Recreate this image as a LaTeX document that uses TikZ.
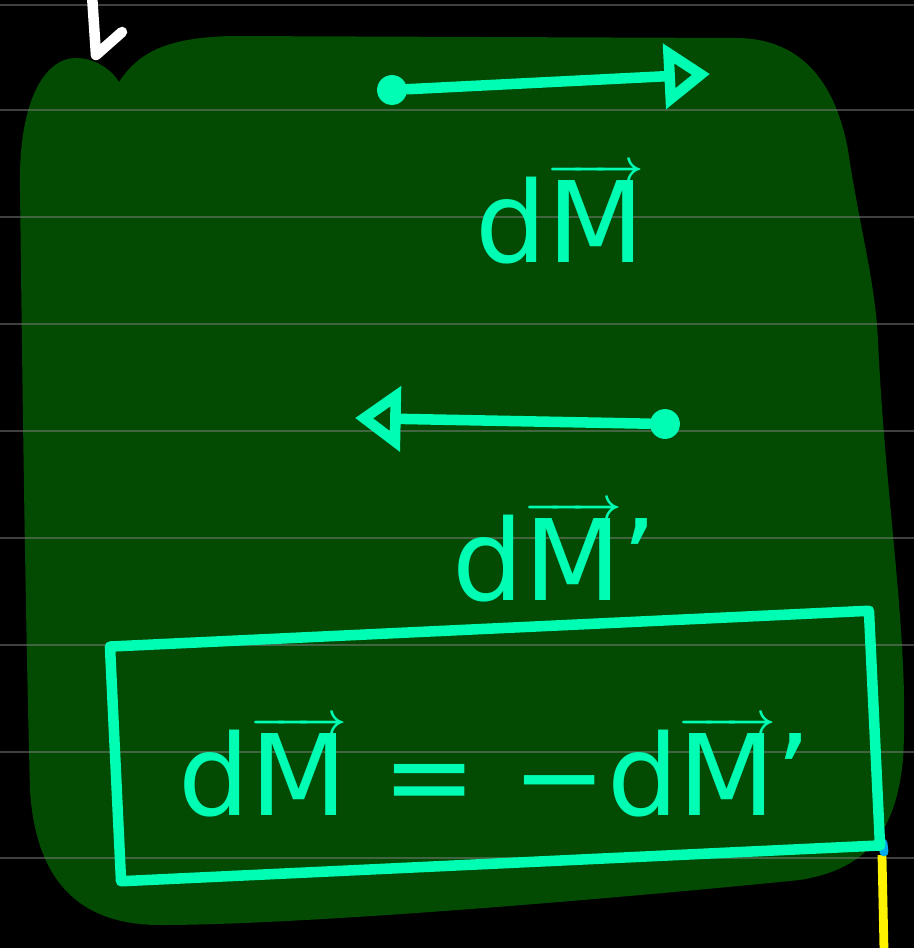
\documentclass[tikz,border=0pt]{standalone}
\usepackage{amsmath}
\usepackage{fontspec}
\setsansfont{DejaVu Sans}
\usetikzlibrary{positioning,arrows.meta,calc}
\definecolor{blob}{HTML}{034A02}
\definecolor{ink}{HTML}{00FDB4}
\definecolor{chalk}{HTML}{FFFFFF}
\definecolor{marker}{HTML}{FFF200}

\begin{document}
\begin{tikzpicture}[
  x=0.02cm, y=-0.02cm,
  rule/.style={gray, opacity=0.5, line width=1.6pt},
  pen/.style={draw=ink, line width=6pt, line cap=round, line join=round},
  arr/.style={pen, -{Triangle[open, length=26pt, width=36pt]}},
  dot/.style={circle, fill=ink, inner sep=0pt, minimum size=17pt},
  lbl/.style={text=ink, inner sep=0pt, font=\sffamily\fontsize{64}{70}\selectfont\boldmath}
]
% page and board
\fill[black] (0,0) rectangle (914,948);
\useasboundingbox (0,0) rectangle (914,948);
\fill[blob] (20,190)
  .. controls (18,100) and (45,58) .. (76,58)
  .. controls (95,58) and (112,70) .. (119,82)
  .. controls (140,50) and (170,38) .. (230,36)
  -- (740,38)
  .. controls (800,40) and (835,80) .. (848,150)
  .. controls (860,230) and (875,280) .. (878,340)
  .. controls (885,500) and (910,640) .. (903,760)
  .. controls (895,840) and (860,870) .. (800,880)
  .. controls (600,900) and (300,925) .. (160,925)
  .. controls (70,925) and (35,870) .. (30,790)
  .. controls (25,600) and (22,350) .. cycle;
\foreach \y in {5,110,217,324,431,538,645,752,858}
  \draw[rule] (0,\y) -- (914,\y);
% strokes at the edges
\draw[draw=chalk, line width=6pt, line cap=round, line join=round] (92,-5) -- (96,55) -- (122,32);
\draw[draw=marker, line width=5pt] (882,855) -- (884,950);
\draw[draw=cyan, line width=5pt, line cap=round] (883,843) -- (884,852);

% first vector
\node[dot] (p1) at (392,90) {};
\coordinate (h1) at (710,74);
\draw[arr] (p1) -- (h1);
\node[lbl, anchor=base] (dm) at (560,262) {d$\overrightarrow{\mbox{M}}$};

% second vector
\node[dot] (p2) at (665,424) {};
\coordinate (h2) at (355,418);
\draw[arr] (p2) -- (h2);
\node[lbl, anchor=base] (dmp) at (555,600) {d$\overrightarrow{\mbox{M}}$’};

% result
\node[lbl, anchor=base] (eq) at (495,815) {d$\overrightarrow{\mbox{M}}$ = −d$\overrightarrow{\mbox{M}}$’};
\node[pen, rotate=2.7, minimum width=15.2cm, minimum height=4.7cm, inner sep=0pt] (frame) at (495,746) {};
\end{tikzpicture}
\end{document}
